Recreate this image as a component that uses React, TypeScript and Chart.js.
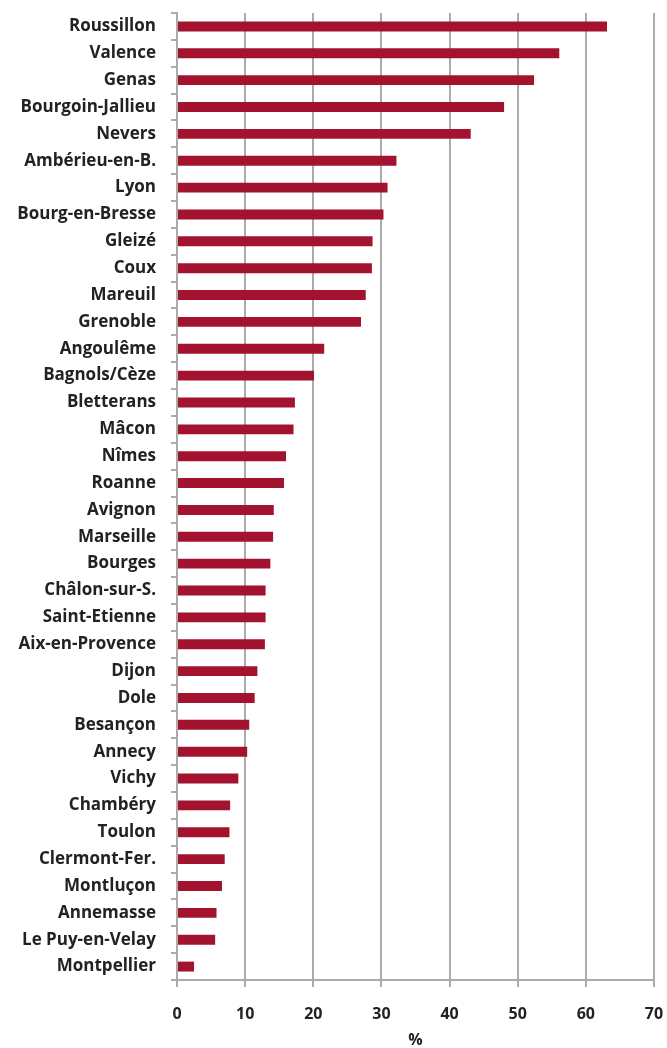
import React, { useEffect, useRef } from "react";
import { Chart, registerables } from "chart.js";

Chart.register(...registerables);

const cities: string[] = [
  "Roussillon", "Valence", "Genas", "Bourgoin-Jallieu", "Nevers", "Ambérieu-en-B.",
  "Lyon", "Bourg-en-Bresse", "Gleizé", "Coux", "Mareuil", "Grenoble",
  "Angoulême", "Bagnols/Cèze", "Bletterans", "Mâcon", "Nîmes", "Roanne",
  "Avignon", "Marseille", "Bourges", "Châlon-sur-S.", "Saint-Etienne", "Aix-en-Provence",
  "Dijon", "Dole", "Besançon", "Annecy", "Vichy", "Chambéry",
  "Toulon", "Clermont-Fer.", "Montluçon", "Annemasse", "Le Puy-en-Velay", "Montpellier",
];

const percentValues: number[] = [
  63.1, 56.1, 52.4, 48.0, 43.1, 32.2,
  30.9, 30.3, 28.7, 28.6, 27.7, 27.0,
  21.6, 20.1, 17.3, 17.1, 16.0, 15.7,
  14.2, 14.1, 13.7, 13.0, 13.0, 12.9,
  11.8, 11.4, 10.6, 10.3, 9.0, 7.8,
  7.7, 7.0, 6.6, 5.8, 5.6, 2.5,
];

const xTickValues: number[] = [0, 10, 20, 30, 40, 50, 60, 70];
const xAxisTitle = "%";

export default function App() {
  const canvasRef = useRef<HTMLCanvasElement | null>(null);

  useEffect(() => {
    if (!canvasRef.current) return;
    const gridColor = "#ababab";
    const labelFont = { family: "'Open Sans', sans-serif", size: 17, weight: "bold" as const };
    const tickFont = { family: "'Open Sans', sans-serif", size: 16, weight: "bold" as const };
    const chart = new Chart(canvasRef.current, {
      type: "bar",
      data: {
        labels: cities,
        datasets: [
          {
            data: percentValues,
            backgroundColor: "#A3122E",
            borderWidth: 0,
            barPercentage: 0.37,
            categoryPercentage: 1,
          },
        ],
      },
      options: {
        indexAxis: "y",
        animation: false,
        responsive: true,
        maintainAspectRatio: false,
        layout: { padding: { top: 13, right: 13, left: 0, bottom: 0 } },
        plugins: { legend: { display: false }, tooltip: { enabled: false } },
        scales: {
          x: {
            min: 0,
            max: 70,
            afterBuildTicks: (scale: any) => {
              scale.ticks = xTickValues.map((v) => ({ value: v }));
            },
            afterFit: (scale: any) => {
              scale.height = 68;
              scale.paddingLeft = 0;
              scale.paddingRight = 0;
            },
            grid: {
              color: gridColor,
              lineWidth: 2,
              tickLength: 7,
              drawTicks: true,
            },
            border: { color: gridColor, width: 2 },
            ticks: {
              color: "#222",
              font: tickFont,
              padding: 18,
            },
            title: {
              display: true,
              text: xAxisTitle,
              color: "#222",
              font: { ...tickFont, lineHeight: 1 },
              padding: { top: 0, bottom: 0 },
            },
          },
          y: {
            afterFit: (scale: any) => {
              scale.width = 177;
              scale.paddingTop = 0;
              scale.paddingBottom = 0;
            },
            grid: {
              drawOnChartArea: false,
              drawTicks: true,
              tickLength: 6,
              color: gridColor,
              lineWidth: 2,
            },
            border: { color: gridColor, width: 2 },
            ticks: {
              color: "#222",
              font: labelFont,
              padding: 15,
              autoSkip: false,
            },
          },
        },
      },
    });
    return () => chart.destroy();
  }, []);

  return (
    <div style={{ position: "absolute", left: 0, top: 0, width: 667, height: 1048 }}>
      <canvas ref={canvasRef} />
    </div>
  );
}
